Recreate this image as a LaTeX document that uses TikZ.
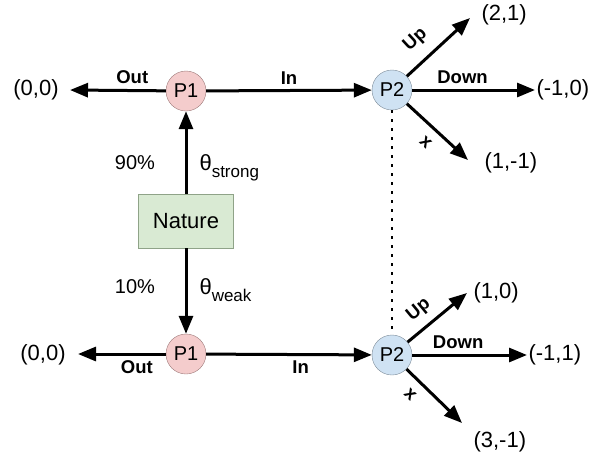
\documentclass[tikz,border=0pt]{standalone}
\usepackage{fontspec}
\setmainfont{Liberation Sans}
\usetikzlibrary{arrows.meta}

\definecolor{pinkfill}{HTML}{F4CCCC}
\definecolor{pinkline}{HTML}{9E7B7B}
\definecolor{bluefill}{HTML}{CFE2F3}
\definecolor{blueline}{HTML}{7D8C99}
\definecolor{greenfill}{HTML}{D9EAD3}
\definecolor{greenline}{HTML}{8FA388}

\begin{document}
\begin{tikzpicture}[x=1pt, y=-1pt,
    pone/.style={circle, draw=pinkline, fill=pinkfill, minimum size=40pt, inner sep=0pt, font=\fontsize{20}{20}\selectfont},
    ptwo/.style={circle, draw=blueline, fill=bluefill, minimum size=40pt, inner sep=0pt, font=\fontsize{20}{20}\selectfont},
    naturebox/.style={draw=greenline, fill=greenfill, minimum width=95pt, minimum height=54pt, font=\fontsize{22}{22}\selectfont},
    arrow/.style={-{Triangle[length=18pt, width=14pt]}, line width=3pt},
    lbl/.style={font=\bfseries\fontsize{18.5}{18.5}\selectfont, inner sep=1pt},
    payoff/.style={font=\fontsize{22}{22}\selectfont},
    pct/.style={font=\fontsize{20}{20}\selectfont}
]
\useasboundingbox (0,0) rectangle (592,451);

\node[naturebox] (nat) at (186,221) {Nature};
\node[pone] (P1s) at (186,91) {P1};
\node[ptwo] (P2s) at (392,90) {P2};
\node[pone] (P1w) at (186,354) {P1};
\node[ptwo] (P2w) at (392,355) {P2};

% arrow ends
\coordinate (sOut) at (70,90);
\coordinate (sUp) at (470,18);
\coordinate (sDown) at (535,90);
\coordinate (sX) at (468,160);
\coordinate (wOut) at (78,354);
\coordinate (wUp) at (467,293);
\coordinate (wDown) at (527,355);
\coordinate (wX) at (462,423);

% payoffs
\node[payoff] (sOutT) at (36,90) {(0,0)};
\node[payoff, anchor=west] (sUpT) at (478,15) {(2,1)};
\node[payoff, anchor=west] (sDownT) at (533,90) {(-1,0)};
\node[payoff, anchor=west] (sXT) at (481,163) {(1,-1)};
\node[payoff] (wOutT) at (43,355) {(0,0)};
\node[payoff, anchor=west] (wUpT) at (470,293) {(1,0)};
\node[payoff, anchor=west] (wDownT) at (525,355) {(-1,1)};
\node[payoff, anchor=west] (wXT) at (470,442) {(3,-1)};

% nature moves
\draw[arrow] (nat) -- (P1s);
\draw[arrow] (nat) -- (P1w);
\node[pct] (ps) at (135,163) {90\%};
\node[pct] (pw) at (135,287) {10\%};
\node[payoff, anchor=west] (ths) at (196,168) {θ\raisebox{-7pt}{\fontsize{17}{17}\selectfont strong}};
\node[payoff, anchor=west] (thw) at (196,290) {θ\raisebox{-7pt}{\fontsize{17}{17}\selectfont weak}};

% strong type
\draw[arrow] (P1s) -- node[lbl, pos=0.35, above=4pt] {Out} (sOut);
\draw[arrow] (P1s) -- node[lbl, above=4pt] {In} (P2s);
\draw[arrow] (P2s) -- node[lbl, sloped, pos=0.36, above=10pt] {Up} (sUp);
\draw[arrow] (P2s) -- node[lbl, pos=0.41, above=4pt] {Down} (sDown);
\draw[arrow] (P2s) -- node[lbl, sloped, pos=0.48, below=8pt] {x} (sX);

% weak type
\draw[arrow] (P1w) -- node[lbl, pos=0.33, below=4pt] {Out} (wOut);
\draw[arrow] (P1w) -- node[lbl, pos=0.57, below=4pt] {In} (P2w);
\draw[arrow] (P2w) -- node[lbl, sloped, pos=0.38, above=7pt] {Up} (wUp);
\draw[arrow] (P2w) -- node[lbl, pos=0.4, above=4pt] {Down} (wDown);
\draw[arrow] (P2w) -- node[lbl, sloped, pos=0.26, below=8pt] {x} (wX);

% information set
\draw[line width=2.5pt, dash pattern=on 2.5pt off 6.5pt] (P2s) -- (P2w);

\end{tikzpicture}
\end{document}
